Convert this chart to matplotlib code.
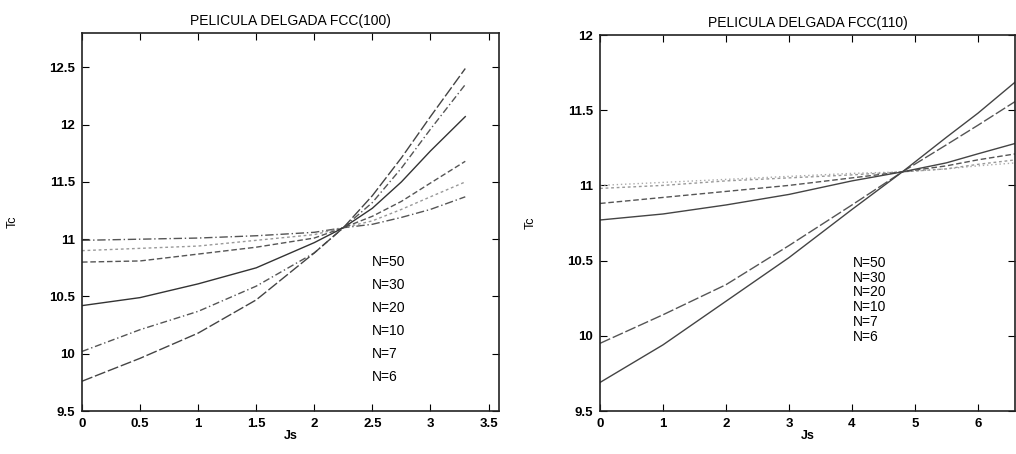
import matplotlib
matplotlib.use("Agg")
import matplotlib.pyplot as plt

plt.rcParams['font.family'] = ['Liberation Sans Narrow', 'Liberation Sans', 'DejaVu Sans']

# Tc(Js) para peliculas FCC(100)
js_100 = [0, 0.5, 1, 1.5, 2, 2.25, 2.5, 2.75, 3, 3.3]
tc_100 = {
    'N=6':  [9.76, 9.96, 10.18, 10.47, 10.88, 11.10, 11.38, 11.71, 12.07, 12.49],
    'N=7':  [10.02, 10.21, 10.37, 10.59, 10.88, 11.10, 11.32, 11.62, 11.96, 12.35],
    'N=10': [10.42, 10.49, 10.61, 10.75, 10.97, 11.10, 11.27, 11.50, 11.77, 12.07],
    'N=20': [10.80, 10.81, 10.87, 10.93, 11.01, 11.10, 11.20, 11.33, 11.49, 11.68],
    'N=30': [10.90, 10.92, 10.94, 10.99, 11.04, 11.10, 11.16, 11.26, 11.37, 11.50],
    'N=50': [10.99, 11.00, 11.01, 11.03, 11.06, 11.10, 11.13, 11.19, 11.26, 11.37],
}

# Tc(Js) para peliculas FCC(110)
js_110 = [0, 1, 2, 3, 4, 4.8, 5.5, 6, 6.6]
tc_110 = {
    'N=6':  [9.69, 9.94, 10.23, 10.52, 10.84, 11.09, 11.32, 11.48, 11.69],
    'N=7':  [9.95, 10.14, 10.34, 10.60, 10.87, 11.09, 11.27, 11.40, 11.56],
    'N=10': [10.77, 10.81, 10.87, 10.94, 11.03, 11.09, 11.15, 11.21, 11.28],
    'N=20': [10.88, 10.92, 10.96, 11.00, 11.05, 11.09, 11.13, 11.17, 11.21],
    'N=30': [10.98, 11.00, 11.03, 11.05, 11.07, 11.09, 11.11, 11.14, 11.17],
    'N=50': [11.00, 11.02, 11.04, 11.06, 11.08, 11.09, 11.11, 11.13, 11.15],
}

labels = ['N=50', 'N=30', 'N=20', 'N=10', 'N=7', 'N=6']

estilos_100 = {
    'N=6':  ('#444444', (0, (8, 2))),
    'N=7':  ('#555555', (0, (5, 2, 1, 2))),
    'N=10': ('#333333', '-'),
    'N=20': ('#555555', (0, (4, 2))),
    'N=30': ('#999999', (0, (2, 2))),
    'N=50': ('#555555', (0, (6, 2, 1, 2))),
}
estilos_110 = {
    'N=6':  ('#444444', '-'),
    'N=7':  ('#555555', (0, (8, 2))),
    'N=10': ('#444444', '-'),
    'N=20': ('#555555', (0, (4, 2))),
    'N=30': ('#999999', (0, (2, 2))),
    'N=50': ('#aaaaaa', (0, (1, 2))),
}


def preparar_ejes(ax, titulo):
    ax.set_title(titulo, fontsize=10, pad=6)
    ax.set_xlabel('Js', fontsize=9, fontweight='bold', labelpad=0)
    ax.set_ylabel('Tc', fontsize=9, labelpad=22)
    ax.tick_params(direction='in', top=True, right=True, length=5,
                   labelsize=9.5, pad=5)
    for lab in ax.get_xticklabels() + ax.get_yticklabels():
        lab.set_fontweight('bold')
    for s in ax.spines.values():
        s.set_linewidth(1.2)
        s.set_color('#222222')


fig = plt.figure(figsize=(10.16, 4.54), dpi=100)

ax1 = fig.add_axes([0.0807, 0.0947, 0.4104, 0.8326])
for n in labels:
    c, ls = estilos_100[n]
    ax1.plot(js_100, tc_100[n], color=c, linestyle=ls, linewidth=1.0)
ax1.set_xlim(0, 3.59)
ax1.set_ylim(9.5, 12.8)
ax1.set_xticks([0, 0.5, 1, 1.5, 2, 2.5, 3, 3.5])
ax1.set_xticklabels(['0', '0.5', '1', '1.5', '2', '2.5', '3', '3.5'])
ax1.set_yticks([9.5, 10, 10.5, 11, 11.5, 12, 12.5])
ax1.set_yticklabels(['9.5', '10', '10.5', '11', '11.5', '12', '12.5'])
preparar_ejes(ax1, 'PELICULA DELGADA FCC(100)')
for i, n in enumerate(labels):
    ax1.text(2.5, 10.80 - 0.2 * i, n, fontsize=10, va='center', ha='left')

ax2 = fig.add_axes([0.5906, 0.0947, 0.4085, 0.8282])
for n in labels:
    c, ls = estilos_110[n]
    ax2.plot(js_110, tc_110[n], color=c, linestyle=ls, linewidth=1.0)
ax2.set_xlim(0, 6.59)
ax2.set_ylim(9.5, 12)
ax2.set_xticks([0, 1, 2, 3, 4, 5, 6])
ax2.set_yticks([9.5, 10, 10.5, 11, 11.5, 12])
ax2.set_yticklabels(['9.5', '10', '10.5', '11', '11.5', '12'])
preparar_ejes(ax2, 'PELICULA DELGADA FCC(110)')
for i, n in enumerate(labels):
    ax2.text(4.02, 10.485 - 0.098 * i, n, fontsize=10, va='center', ha='left')

fig.savefig('out.png', dpi=100)
